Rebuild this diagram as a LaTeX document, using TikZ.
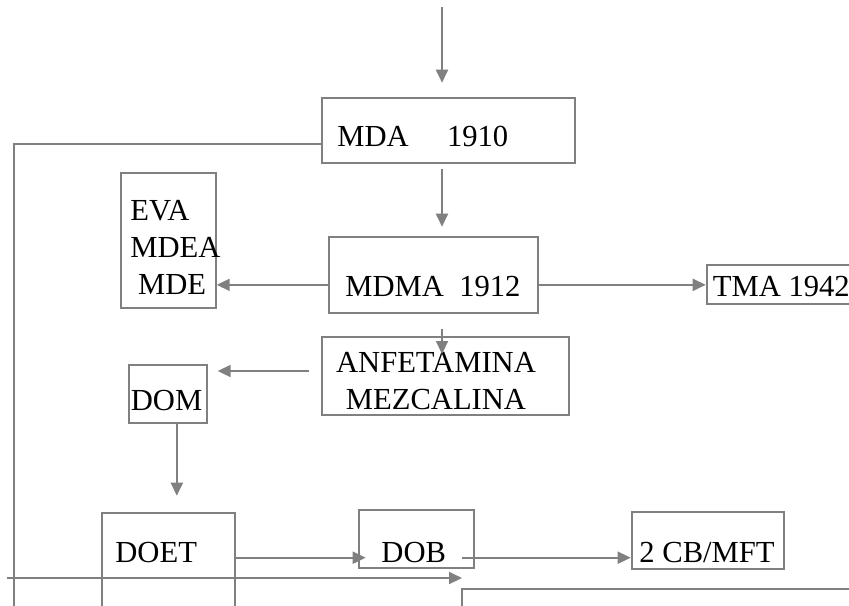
\documentclass[tikz,border=0pt]{standalone}
\usepackage{fontspec}
\setmainfont{Liberation Serif}
\usetikzlibrary{arrows.meta,calc}
\definecolor{flechagris}{RGB}{128,128,128}

\begin{document}
\begin{tikzpicture}[x=0.5pt,y=-0.5pt,>={Triangle[length=6.5pt,width=6pt]},
		caja/.style={draw=flechagris,line width=1pt,inner sep=0pt},
		rotulo/.style={inner sep=0pt,font=\fontsize{15.3}{18.5}\selectfont},
		flecha/.style={->,color=flechagris,line width=1pt},
		linea/.style={draw=flechagris,line width=1pt}]
		\useasboundingbox (0,0) rectangle (849,605);
		\clip (0,0) rectangle (849,605);
		% cajas
		\node[caja,minimum width=126.65pt,minimum height=32.8pt] (mda) at (448.35,130.5) {};
		\node[caja,minimum width=47.5pt,minimum height=67.8pt] (eva) at (168.2,240.5) {};
		\node[caja,minimum width=104.35pt,minimum height=38.15pt] (mdma) at (433.35,274.85) {};
		\node[caja,minimum width=74.65pt,minimum height=19.5pt] (tma) at (781.35,284.5) {};
		\node[caja,minimum width=123.4pt,minimum height=39pt] (anf) at (445.1,376) {};
		\node[caja,minimum width=38.85pt,minimum height=29pt] (dom) at (167.85,394) {};
		\node[caja,minimum width=66.65pt,minimum height=53.65pt] (doet) at (168.35,566.35) {};
		\node[caja,minimum width=57.35pt,minimum height=28.85pt] (dob) at (416.65,538.85) {};
		\node[caja,minimum width=76.15pt,minimum height=28.5pt] (cb) at (707.85,540.5) {};
		% textos
		\node[rotulo,anchor=base west] (mdat) at (337,146) {MDA\hspace{1.25em}1910};
		\node[rotulo,anchor=north west,align=left] (evat) at (130,200) {EVA\\MDEA\\\hspace*{0.25em}MDE};
		\node[rotulo,anchor=base west] (mdmat) at (345,296) {MDMA\ \ 1912};
		\node[rotulo,anchor=base west] (tmat) at (712.5,296) {TMA 1942};
		\node[rotulo,anchor=north,align=center] (anft) at (436,352) {ANFETAMINA\\MEZCALINA};
		\node[rotulo,anchor=base west] (domt) at (130.5,410) {DOM};
		\node[rotulo,anchor=base west] (doett) at (115,562) {DOET};
		\node[rotulo,anchor=base west] (dobt) at (381,562) {DOB};
		\node[rotulo,anchor=base west] (cbt) at (639,562) {2 CB/MFT};
		% flechas
		\coordinate (arriba) at (442,7);
		\coordinate (izqabajo) at (14,615);
		\draw[flecha,shorten >=7pt] (arriba) -- (arriba |- mda.north);
		\draw[flecha,shorten <=2.5pt,shorten >=4.5pt] (mda.south -| arriba) -- (mdma.north -| arriba);
		\draw[linea] ($(mda.west)+(0,13.8)$) -| (izqabajo);
		\draw[flecha] ($(mdma.west)+(0,10)$) -- ($(mdma.west -| eva.east)+(0,10)$);
		\draw[flecha] ($(mdma.east)+(0,10)$) -- ($(mdma.east -| tma.west)+(0,10)$);
		\draw[flecha,shorten <=7.5pt] (mdma.south -| arriba) -- ($(anf.north -| arriba)+(0,18)$);
		\draw[flecha,shorten <=6pt,shorten >=5pt] ($(anf.west)+(0,-5)$) -- ($(anf.west -| dom.east)+(0,-5)$);
		\draw[flecha,shorten >=8pt] ($(dom.south)+(9,0)$) -- ($(dom.south |- doet.north)+(9,0)$);
		\draw[flecha] ($(dob.west -| doet.east)+(0,18.85)$) -- ($(dob.west)+(7.4,18.85)$);
		\draw[flecha] ($(dob.east)+(-13,18.85)$) -- ($(dob.east -| cb.west)+(0,18.85)$);
		% abajo
		\coordinate (ini) at (7,578);
		\coordinate (fin) at (462,578);
		\coordinate (esqabajo) at (462,615);
		\coordinate (esqder) at (860,589);
		\draw[flecha] (ini) -- (fin);
		\draw[linea] (esqabajo) |- (esqder);
\end{tikzpicture}
\end{document}
